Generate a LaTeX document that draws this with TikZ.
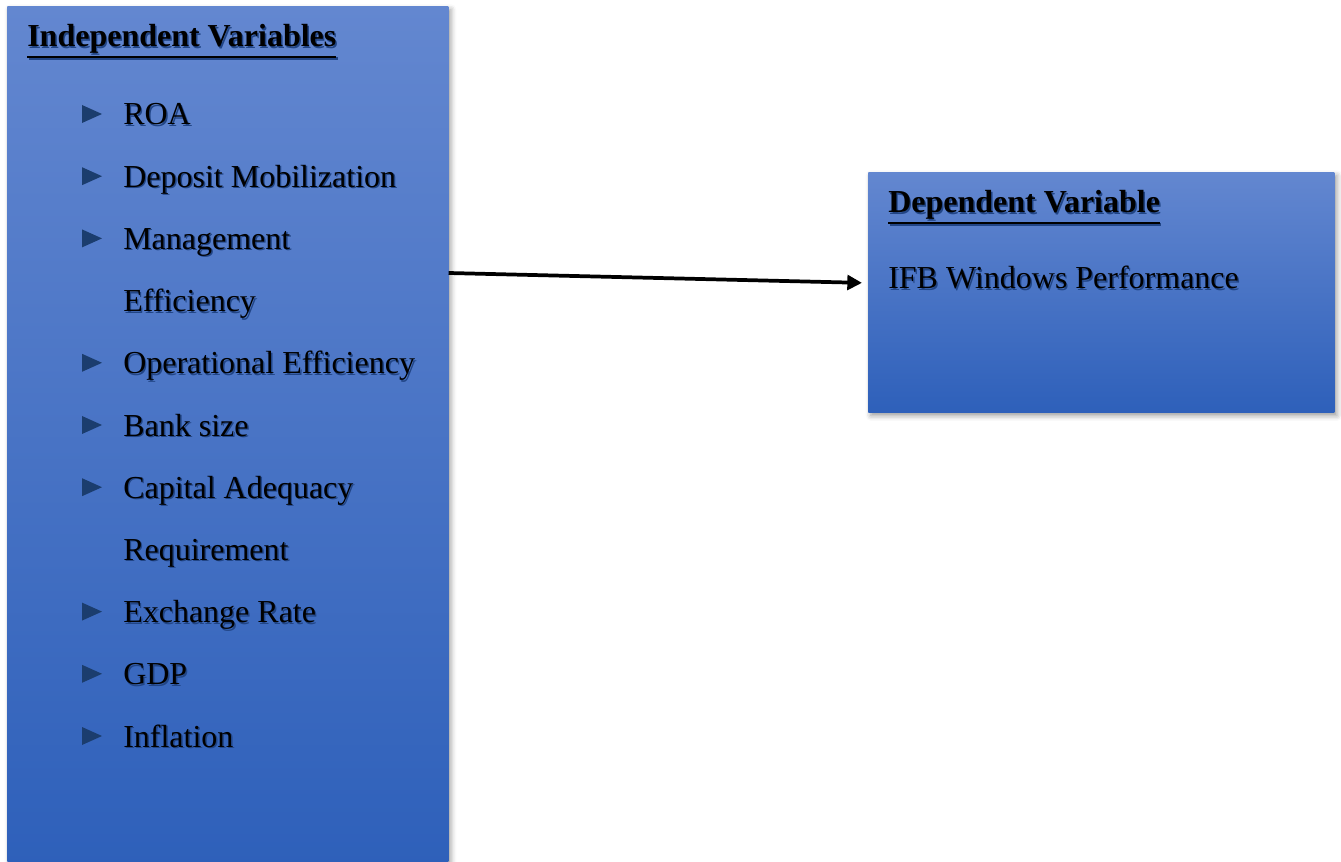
\documentclass[tikz,border=0pt]{standalone}
\usepackage{fontspec}
\setmainfont{Liberation Serif}
\usetikzlibrary{positioning,calc,arrows.meta,shadows.blur}
\definecolor{boxtop}{RGB}{99,135,208}
\definecolor{boxbot}{RGB}{46,96,186}
\definecolor{bulletcol}{RGB}{27,61,110}
\tikzstyle{arrow} = [line width=2.8pt,-{Triangle[length=11pt,width=11pt]}]
% text with a soft drop shadow
\newcommand\shtxt[1]{\rlap{\kern1.1pt\raisebox{-1.1pt}{\color{boxbot!72!black}#1}}#1}
% thick underline
\newcommand\thickul[1]{\vtop{\hbox{#1}\kern1.4pt\hrule height 2.1pt}}

\begin{document}
\begin{tikzpicture}[x=0.75pt,y=-0.75pt,
  font=\fontsize{24}{28}\selectfont,
  panel/.style = {draw=none,top color=boxtop,bottom color=boxbot,anchor=north west,
  blur shadow={shadow xshift=2pt,shadow yshift=-2.5pt,shadow blur radius=4pt}},
  item/.style = {anchor=base west,inner sep=0pt},
  bullet/.pic = {\fill[bulletcol] (0,-9) -- (20,0) -- (0,9) -- cycle;}]
 \useasboundingbox (0,0) rectangle (1341,862);
 \node[panel,minimum width=330.75pt,minimum height=645pt] (indep) at (7,6) {};
 \node[panel,minimum width=349.5pt,minimum height=180pt] (dep) at (868,172) {};
 % left panel
 \node[item] (head1) at (27,47) {\shtxt{\thickul{\textbf{Independent Variables}}}};
 \foreach \txt [count=\i] in {ROA,Deposit Mobilization,Management,Efficiency,
   Operational Efficiency,Bank size,Capital Adequacy,Requirement,Exchange Rate,GDP,Inflation}
  \node[item] (v\i) at (123,{125+62.2*(\i-1)}) {\shtxt{\txt}};
 \foreach \i in {1,2,3,5,6,7,9,10,11}
  \pic at ([shift={(-41,-11)}]v\i.base west) {bullet};
 % right panel
 \node[item] (head2) at (888,213) {\shtxt{\thickul{\textbf{Dependent Variable}}}};
 \node[item] (perf) at (888,289) {\shtxt{IFB Windows Performance}};
 \draw[arrow,shorten >=4.5pt] (indep.east |- 0,273) -- (dep.west |- 0,283);
\end{tikzpicture}
\end{document}
